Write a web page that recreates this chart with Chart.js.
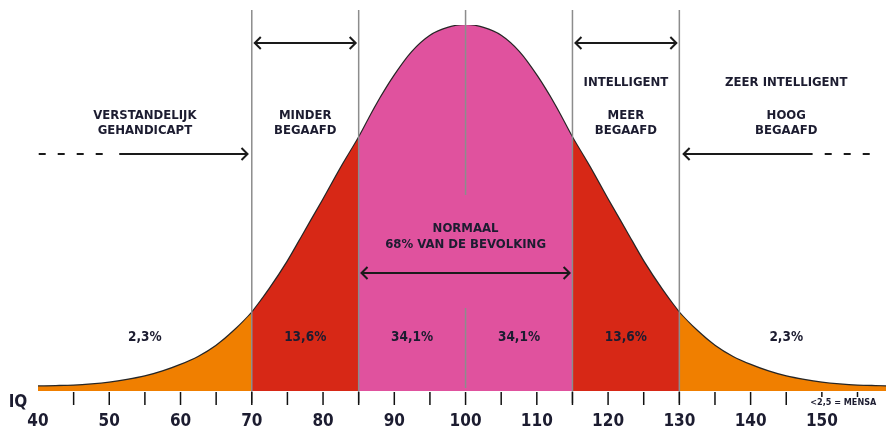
<!DOCTYPE html>
<html>
<head>
<meta charset="utf-8">
<script src="https://cdn.jsdelivr.net/npm/chart.js@4.4.1/dist/chart.umd.min.js"></script>
<style>
  html, body { margin: 0; padding: 0; background: #fff; }
  #wrap { width: 886px; height: 434px; position: relative; }
</style>
</head>
<body>
<div id="wrap"><canvas id="myChart"></canvas></div>
<script>
// IQ values along the curve
var iq = [40, 42.5, 45, 47.5, 50, 52.5, 55, 57.5, 60, 62.5, 65, 67.5, 70, 72.5, 75, 77.5, 80, 82.5, 85, 87.5,
          90, 92.5, 95, 97.5, 100, 102.5, 105, 107.5, 110, 112.5, 115, 117.5, 120, 122.5, 125, 127.5, 130,
          132.5, 135, 137.5, 140, 142.5, 145, 147.5, 150, 152.5, 155, 157.5, 160];
// curve height (arbitrary units, peak = 363)
var height = [1.5, 1.8, 2.3, 3.5, 5.3, 8, 11.5, 16.5, 23, 31, 42, 57, 75, 99, 126, 157, 188, 220, 250, 283,
              312, 336, 352, 360, 363, 360, 352, 336, 312, 283, 250, 220, 188, 157, 126, 99, 75,
              57, 42, 31, 23, 16.5, 11.5, 8, 5.3, 3.5, 2.3, 1.8, 1.5];

var bandEdges = [40, 70, 85, 115, 130, 160];
var bandColors = ['#f07f00', '#d72816', '#e0529e', '#d72816', '#f07f00'];
var bandPercent = ['2,3%', '13,6%', '34,1%', '34,1%', '13,6%', '2,3%'];
var percentAt = [55, 77.5, 92.5, 107.5, 122.5, 145];

var tickLabels = [40, 50, 60, 70, 80, 90, 100, 110, 120, 130, 140, 150];
var minorTicks = [45, 50, 55, 60, 65, 70, 75, 80, 85, 90, 95, 100, 105, 110, 115, 120, 125, 130, 135, 140, 145, 150, 155];
var dividers = [70, 85, 115, 130];

var headings = [
    { at: 55,    lines: ['VERSTANDELIJK', 'GEHANDICAPT'] },
    { at: 77.5,  lines: ['MINDER', 'BEGAAFD'] },
    { at: 122.5, lines: ['MEER', 'BEGAAFD'] },
    { at: 145,   lines: ['HOOG', 'BEGAAFD'] }
];
var topHeadings = [
    { at: 122.5, text: 'INTELLIGENT' },
    { at: 145,   text: 'ZEER INTELLIGENT' }
];
var normalText = ['NORMAAL', '68% VAN DE BEVOLKING'];
var mensaNote = '<2,5 = MENSA';

var FONT = "'Liberation Sans Narrow', 'DejaVu Sans Condensed', 'Roboto Condensed', Roboto, sans-serif";
var INK = '#1c1c30';

function points(lo, hi) {
    var out = [];
    for (var i = 0; i < iq.length; i++) {
        if (iq[i] >= lo && iq[i] <= hi) out.push({ x: iq[i], y: height[i] });
    }
    return out;
}

var datasets = [];
for (var b = 0; b < bandColors.length; b++) {
    datasets.push({
        data: points(bandEdges[b], bandEdges[b + 1]),
        backgroundColor: bandColors[b],
        borderWidth: 0,
        pointRadius: 0,
        fill: 'start',
        cubicInterpolationMode: 'monotone'
    });
}
datasets.push({
    data: points(40, 160),
    borderColor: '#262626',
    borderWidth: 2.5,
    pointRadius: 0,
    fill: false,
    cubicInterpolationMode: 'monotone'
});

function arrowHead(ctx, x, y, dir) {
    ctx.beginPath();
    ctx.moveTo(x - dir * 6, y - 6);
    ctx.lineTo(x, y);
    ctx.lineTo(x - dir * 6, y + 6);
    ctx.stroke();
}

function arrow(ctx, x1, x2, y, left, right) {
    ctx.beginPath();
    ctx.moveTo(x1, y);
    ctx.lineTo(x2, y);
    ctx.stroke();
    if (left) arrowHead(ctx, x1, y, -1);
    if (right) arrowHead(ctx, x2, y, 1);
}

var decor = {
    id: 'decor',
    afterDatasetsDraw: function(chart) {
        var ctx = chart.ctx;
        var xs = chart.scales.x, ys = chart.scales.y;
        var X = function(v) { return xs.getPixelForValue(v); };
        var Y = function(v) { return ys.getPixelForValue(v); };
        var base = Y(0);

        ctx.save();
        ctx.lineCap = 'butt';

        // divider lines
        ctx.strokeStyle = '#8c8c8c';
        ctx.lineWidth = 1.5;
        dividers.forEach(function(v) {
            ctx.beginPath();
            ctx.moveTo(X(v), Y(378));
            ctx.lineTo(X(v), base + 15);
            ctx.stroke();
        });
        // centre line, broken around the "normaal" text
        ctx.beginPath();
        ctx.moveTo(X(100), Y(378));
        ctx.lineTo(X(100), Y(193));
        ctx.moveTo(X(100), Y(80));
        ctx.lineTo(X(100), base);
        ctx.stroke();

        // ticks (the last two are shorter, above the mensa note)
        ctx.strokeStyle = '#111';
        ctx.lineWidth = 1.5;
        minorTicks.forEach(function(v) {
            ctx.beginPath();
            ctx.moveTo(X(v), base + 4);
            ctx.lineTo(X(v), base + (v >= 150 ? 9 : 17));
            ctx.stroke();
        });

        // arrows
        ctx.strokeStyle = '#1a1a1a';
        ctx.lineWidth = 2;
        arrow(ctx, X(70) + 3, X(85) - 3, Y(345), true, true);
        arrow(ctx, X(115) + 3, X(130) - 3, Y(345), true, true);
        arrow(ctx, X(85.4), X(114.6), Y(115), true, true);
        arrow(ctx, X(51.4), X(69.4), Y(234), false, true);
        arrow(ctx, X(130.6), X(148.7), Y(234), true, false);
        ctx.setLineDash([7, 12]);
        ctx.beginPath();
        ctx.moveTo(X(40.1), Y(234));
        ctx.lineTo(X(50.2), Y(234));
        ctx.moveTo(X(150.4), Y(234));
        ctx.lineTo(X(157.2), Y(234));
        ctx.stroke();
        ctx.setLineDash([]);

        // texts
        ctx.fillStyle = INK;
        ctx.textAlign = 'center';
        ctx.textBaseline = 'middle';
        ctx.font = 'bold 13px ' + FONT;
        headings.forEach(function(h) {
            ctx.fillText(h.lines[0], X(h.at), Y(272));
            ctx.fillText(h.lines[1], X(h.at), Y(257));
        });
        topHeadings.forEach(function(h) {
            ctx.fillText(h.text, X(h.at), Y(305));
        });
        ctx.fillText(normalText[0], X(100), Y(159));
        ctx.fillText(normalText[1], X(100), Y(143));

        ctx.font = 'bold 13.5px ' + FONT;
        bandPercent.forEach(function(t, i) {
            ctx.fillText(t, X(percentAt[i]), Y(51));
        });

        ctx.font = 'bold 17px ' + FONT;
        tickLabels.forEach(function(v) {
            ctx.fillText(String(v), X(v), base + 34);
        });
        ctx.fillText('IQ', 18, base + 15);

        ctx.font = 'bold 9px ' + FONT;
        ctx.fillText(mensaNote, X(153), base + 15);

        ctx.restore();
    }
};

var chart = new Chart(document.getElementById('myChart').getContext('2d'), {
    type: 'line',
    data: { datasets: datasets },
    options: {
        responsive: true,
        maintainAspectRatio: false,
        devicePixelRatio: 1,
        animation: false,
        layout: { padding: { left: 38, right: 0, top: 25, bottom: 43 } },
        plugins: { legend: { display: false }, tooltip: { enabled: false } },
        scales: {
            x: { type: 'linear', min: 40, max: 159, display: false },
            y: { min: -3, max: 363, display: false }
        }
    },
    plugins: [decor]
});
</script>
</body>
</html>
